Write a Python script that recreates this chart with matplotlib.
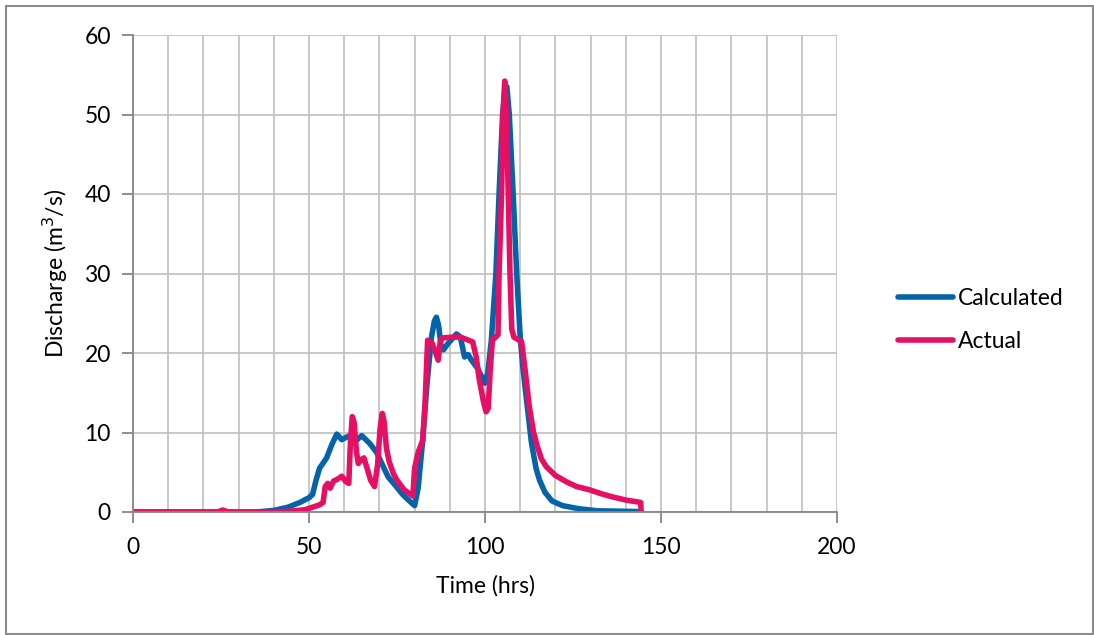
import matplotlib
matplotlib.use("Agg")
import matplotlib.pyplot as plt
from matplotlib.patches import Rectangle

plt.rcParams.update({
    'font.family': ['Lato', 'DejaVu Sans'],
    'font.size': 16.5,
})

# Calculated hydrograph (time in hrs, discharge in m3/s)
calc_t = [0, 35, 40, 44, 47.4, 50, 51, 52, 53, 55, 56.5, 57.9, 59.3, 61.5, 63.4, 65,
          67.3, 69.2, 71, 72.5, 74.8, 76.6, 78.5, 80, 81, 82.3, 83.5, 84.8, 85.6, 86.2,
          86.8, 87.5, 88.2, 89.5, 91.9, 93, 94.2, 95.2, 96, 98, 99.9, 100.8, 101.8,
          103.1, 104, 105, 105.7, 106.2, 106.9, 108, 109, 110, 110.8, 111.8, 113.2, 114.5,
          115.5, 117, 119, 122, 126.8, 132, 144]
calc_q = [0, 0, 0.2, 0.6, 1.2, 1.8, 2.2, 4, 5.5, 6.8, 8.5, 9.8, 9.1, 9.6, 9.0, 9.6,
          8.6, 7.5, 5.8, 4.4, 3.2, 2.2, 1.4, 0.8, 3, 9, 16, 22, 24, 24.5,
          23.5, 21, 20.4, 21.2, 22.4, 22, 19.5, 19.8, 19.2, 18, 16.2, 17.5, 21.6,
          30, 40, 50, 53.2, 53.5, 50, 40, 30, 22, 18, 14.1, 8.7, 5.5,
          4, 2.5, 1.4, 0.8, 0.4, 0.15, 0.05]

# Actual (observed) hydrograph
act_t = [0, 24, 25.5, 27, 40, 45, 49, 51, 53, 54, 54.6, 55.3, 56, 57, 58, 59.3, 60.5,
         61.3, 61.8, 62.3, 62.8, 63.5, 64, 64.8, 65.6, 66.5, 67.5, 68.6, 69.5, 70.2,
         70.8, 71.3, 72, 72.8, 74, 75, 77, 78.6, 79.5, 80, 81, 82.3, 83, 83.7, 85, 86,
         86.7, 87.3, 88, 90.8, 93, 96.5, 97.5, 98.4, 99.5, 100.3, 100.9, 101.5, 102.1,
         103.7, 104, 104.7, 105.1, 105.6, 106.1, 106.6, 107.1, 107.6, 108.2, 110.4,
         111.5, 112.6, 113.8, 114.9, 116, 117.4, 120, 123.1, 126, 129.6, 133, 136.2,
         140, 142.9, 144.2, 144.4]
act_q = [0, 0, 0.25, 0, 0, 0.1, 0.3, 0.6, 0.9, 1.2, 3.2, 3.6, 3, 3.9, 4.1, 4.5, 3.8,
         3.6, 9, 12, 11.3, 7.5, 6.1, 6.6, 6.8, 5.5, 4, 3.2, 6, 10.5,
         12.4, 11.5, 8, 6.3, 4.8, 4, 2.8, 2.3, 2, 5.5, 7.5, 9, 14, 21.6, 21.2, 20,
         19.1, 21.5, 21.9, 22, 22, 21.4, 19.5, 16.6, 14, 12.6, 13, 18, 21.6,
         22.3, 30, 40, 50, 54.2, 50, 40, 30, 23, 22, 21.4,
         17.5, 13.2, 10, 8.2, 6.7, 5.7, 4.6, 3.8, 3.2, 2.8, 2.3, 1.9,
         1.5, 1.3, 1.2, 0]

fig = plt.figure(figsize=(10.94, 6.35), dpi=100)
ax = fig.add_axes([133 / 1094, 1 - 512 / 635, (837 - 133) / 1094, (512 - 35) / 635])

ax.plot(calc_t, calc_q, color='#0563A8', lw=4, label='Calculated',
        solid_joinstyle='round', solid_capstyle='round')
ax.plot(act_t, act_q, color='#E50F63', lw=4, label='Actual',
        solid_joinstyle='round', solid_capstyle='round')

ax.set_xlim(0, 200)
ax.set_ylim(0, 60)
ax.set_xticks(range(0, 201, 50))
ax.set_xticks(range(0, 201, 10), minor=True)
ax.set_yticks(range(0, 61, 10))

ax.grid(True, which='both', axis='x', color='#BFBFBF', lw=1.2)
ax.grid(True, which='major', axis='y', color='#BFBFBF', lw=1.2)
ax.set_axisbelow(True)

for s in ['top', 'right']:
    ax.spines[s].set_visible(False)
for s in ['left', 'bottom']:
    ax.spines[s].set_color('#868686')
    ax.spines[s].set_linewidth(1.3)

ax.tick_params(axis='both', which='major', direction='out', length=8, width=1.3,
               color='#868686', labelsize=16.5)
ax.tick_params(axis='x', which='major', pad=10)
ax.tick_params(axis='y', which='major', pad=8)
ax.tick_params(axis='x', which='minor', length=0)

ax.set_xlabel('Time (hrs)', fontsize=16.5, labelpad=12)
ax.set_ylabel('Discharge (m$^3$/s)', fontsize=16.5, labelpad=10)

ax.legend(loc='center left', bbox_to_anchor=(898 / 1094, 1 - 320 / 635),
          bbox_transform=fig.transFigure, frameon=False, fontsize=16.5,
          handlelength=2.4, handletextpad=0.2, labelspacing=1.0,
          borderpad=0, borderaxespad=0)

# outer chart border
fig.patches.append(Rectangle((6 / 1094, 1 / 635), 1 - 7 / 1094, 1 - 7 / 635,
                             transform=fig.transFigure, fill=False,
                             edgecolor='#8C8C8C', lw=1.5))

fig.savefig('out.png', dpi=100, facecolor='white')
